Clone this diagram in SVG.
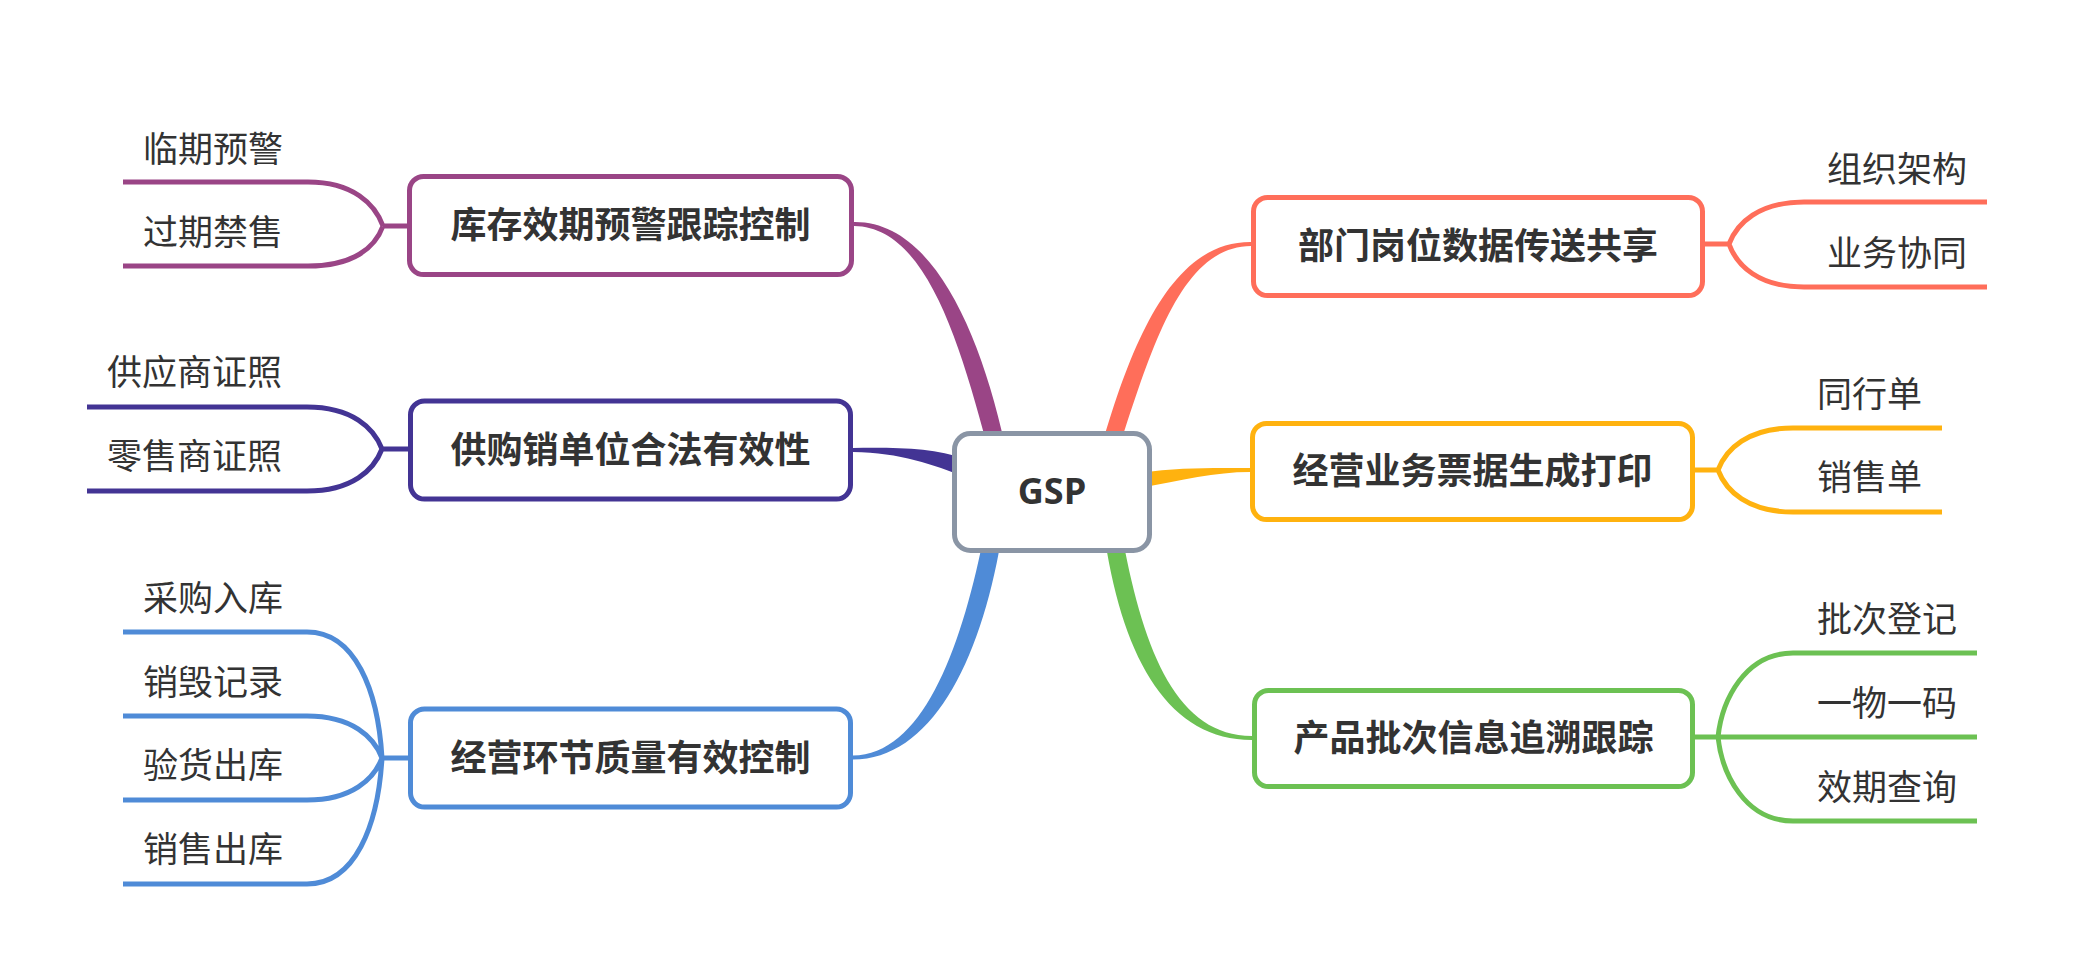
<svg xmlns="http://www.w3.org/2000/svg" width="2075" height="975" viewBox="0 0 2075 975">
<style>
.node{fill:#fff;stroke-width:5}
.nt{font-family:"Noto Sans CJK SC","Noto Sans",sans-serif;font-weight:700;font-size:36px;fill:#333;text-anchor:middle}
.lt{font-family:"Noto Sans CJK SC","Noto Sans",sans-serif;font-weight:400;font-size:35px;fill:#333}
.leaf{fill:none;stroke-width:5;stroke-linecap:butt}
.p{stroke:#9A4586}.pf{fill:#9A4586}
.i{stroke:#433494}.if{fill:#433494}
.b{stroke:#4F8BD7}.bf{fill:#4F8BD7}
.r{stroke:#FF6E5A}.rf{fill:#FF6E5A}
.y{stroke:#FFB20F}.yf{fill:#FFB20F}
.g{stroke:#6CC153}.gf{fill:#6CC153}
</style>
<rect width="2075" height="975" fill="#fff"/>
<g id="connectors">
  <!-- main tapered branches -->
  <path class="pf" d="M 854,222 C 931,221 979,328 1005,445 L 987,445 C 958,336 924,226.5 854,226 Z"/>
  <path class="rf" d="M 1251,242 C 1176,241.5 1135,331 1102,445 L 1120,445 C 1154,339 1184,246.5 1251,246 Z"/>
  <path class="if" d="M 853,448 C 900,447.5 934,448 965,459 L 965,477 C 934,465 900,452.5 853,452 Z"/>
  <path class="yf" d="M 1140,473 C 1180,467 1215,468 1250,468 L 1250,472 C 1215,472 1182,480 1140,488 Z"/>
  <path class="bf" d="M 853,755.5 C 921,755 960,653 983,540 L 1001,540 C 980,664 930,759.5 853,759.5 Z"/>
  <path class="gf" d="M 1105,540 C 1124,662 1170,740 1252,740 L 1252,736 C 1178,736 1144,653 1123,540 Z"/>
  <!-- purple leaves -->
  <path class="leaf p" d="M 123,182 L 308,182 C 353,182 375,204 383,226 M 123,266 L 308,266 C 353,266 375,248 383,226 M 383,226 L 410,226"/>
  <!-- indigo leaves -->
  <path class="leaf i" d="M 87,407 L 307,407 C 352,407 374,428 382,449 M 87,491 L 307,491 C 352,491 374,470 382,449 M 382,449 L 410,449"/>
  <!-- blue leaves -->
  <path class="leaf b" d="M 123,632 L 307,632 C 355,632 378,690 382,758 M 123,716 L 307,716 C 352,716 374,737 382,758 M 123,800 L 307,800 C 352,800 374,779 382,758 M 123,884 L 307,884 C 355,884 378,826 382,758 M 382,758 L 410,758"/>
  <!-- red leaves -->
  <path class="leaf r" d="M 1987,202 L 1804,202 C 1759,202 1737,223 1729,244 M 1987,287 L 1804,287 C 1759,287 1737,266 1729,244 M 1729,244 L 1703,244"/>
  <!-- yellow leaves -->
  <path class="leaf y" d="M 1942,428 L 1793,428 C 1748,428 1726,449 1718,470 M 1942,512 L 1793,512 C 1748,512 1726,491 1718,470 M 1718,470 L 1693,470"/>
  <!-- green leaves -->
  <path class="leaf g" d="M 1977,653 L 1793,653 C 1745,653 1722,700 1718,737 M 1977,737 L 1693,737 M 1977,821 L 1793,821 C 1745,821 1722,774 1718,737"/>
</g>
<g id="gsp">
  <rect class="node" x="954.5" y="433.5" width="195" height="117" rx="16" stroke="#8A95A5"/>
  <text x="1052" y="504" font-family="'Open Sans','Noto Sans',sans-serif" font-weight="700" font-size="36" fill="#333" text-anchor="middle">GSP</text>
</g>
<g id="n-kucun">
  <rect class="node p" x="409.5" y="176.5" width="442" height="98" rx="14"/>
  <text class="nt" x="630.5" y="238">库存效期预警跟踪控制</text>
</g>
<g id="n-gonggou">
  <rect class="node i" x="410.5" y="401" width="440" height="98" rx="14"/>
  <text class="nt" x="630.5" y="463">供购销单位合法有效性</text>
</g>
<g id="n-jingying">
  <rect class="node b" x="410.5" y="709" width="440" height="98" rx="14"/>
  <text class="nt" x="630.5" y="771">经营环节质量有效控制</text>
</g>
<g id="n-bumen">
  <rect class="node r" x="1253.5" y="197.5" width="449" height="98" rx="14"/>
  <text class="nt" x="1478" y="259">部门岗位数据传送共享</text>
</g>
<g id="n-piaoju">
  <rect class="node y" x="1252.5" y="423.5" width="440" height="96" rx="14"/>
  <text class="nt" x="1472.5" y="484">经营业务票据生成打印</text>
</g>
<g id="n-pici">
  <rect class="node g" x="1254.5" y="690.5" width="438" height="96" rx="14"/>
  <text class="nt" x="1473.5" y="751">产品批次信息追溯跟踪</text>
</g>
<g id="leaves-kucun">
  <text class="lt" x="143" y="162">临期预警</text>
  <text class="lt" x="143" y="245">过期禁售</text>
</g>
<g id="leaves-gonggou">
  <text class="lt" x="107" y="385">供应商证照</text>
  <text class="lt" x="107" y="469">零售商证照</text>
</g>
<g id="leaves-jingying">
  <text class="lt" x="143" y="611">采购入库</text>
  <text class="lt" x="143" y="695">销毁记录</text>
  <text class="lt" x="143" y="778">验货出库</text>
  <text class="lt" x="143" y="862">销售出库</text>
</g>
<g id="leaves-bumen">
  <text class="lt" x="1827" y="182">组织架构</text>
  <text class="lt" x="1827" y="266">业务协同</text>
</g>
<g id="leaves-piaoju">
  <text class="lt" x="1817" y="407">同行单</text>
  <text class="lt" x="1817" y="490">销售单</text>
</g>
<g id="leaves-pici">
  <text class="lt" x="1817" y="632">批次登记</text>
  <text class="lt" x="1817" y="716">一物一码</text>
  <text class="lt" x="1817" y="800">效期查询</text>
</g>
</svg>
